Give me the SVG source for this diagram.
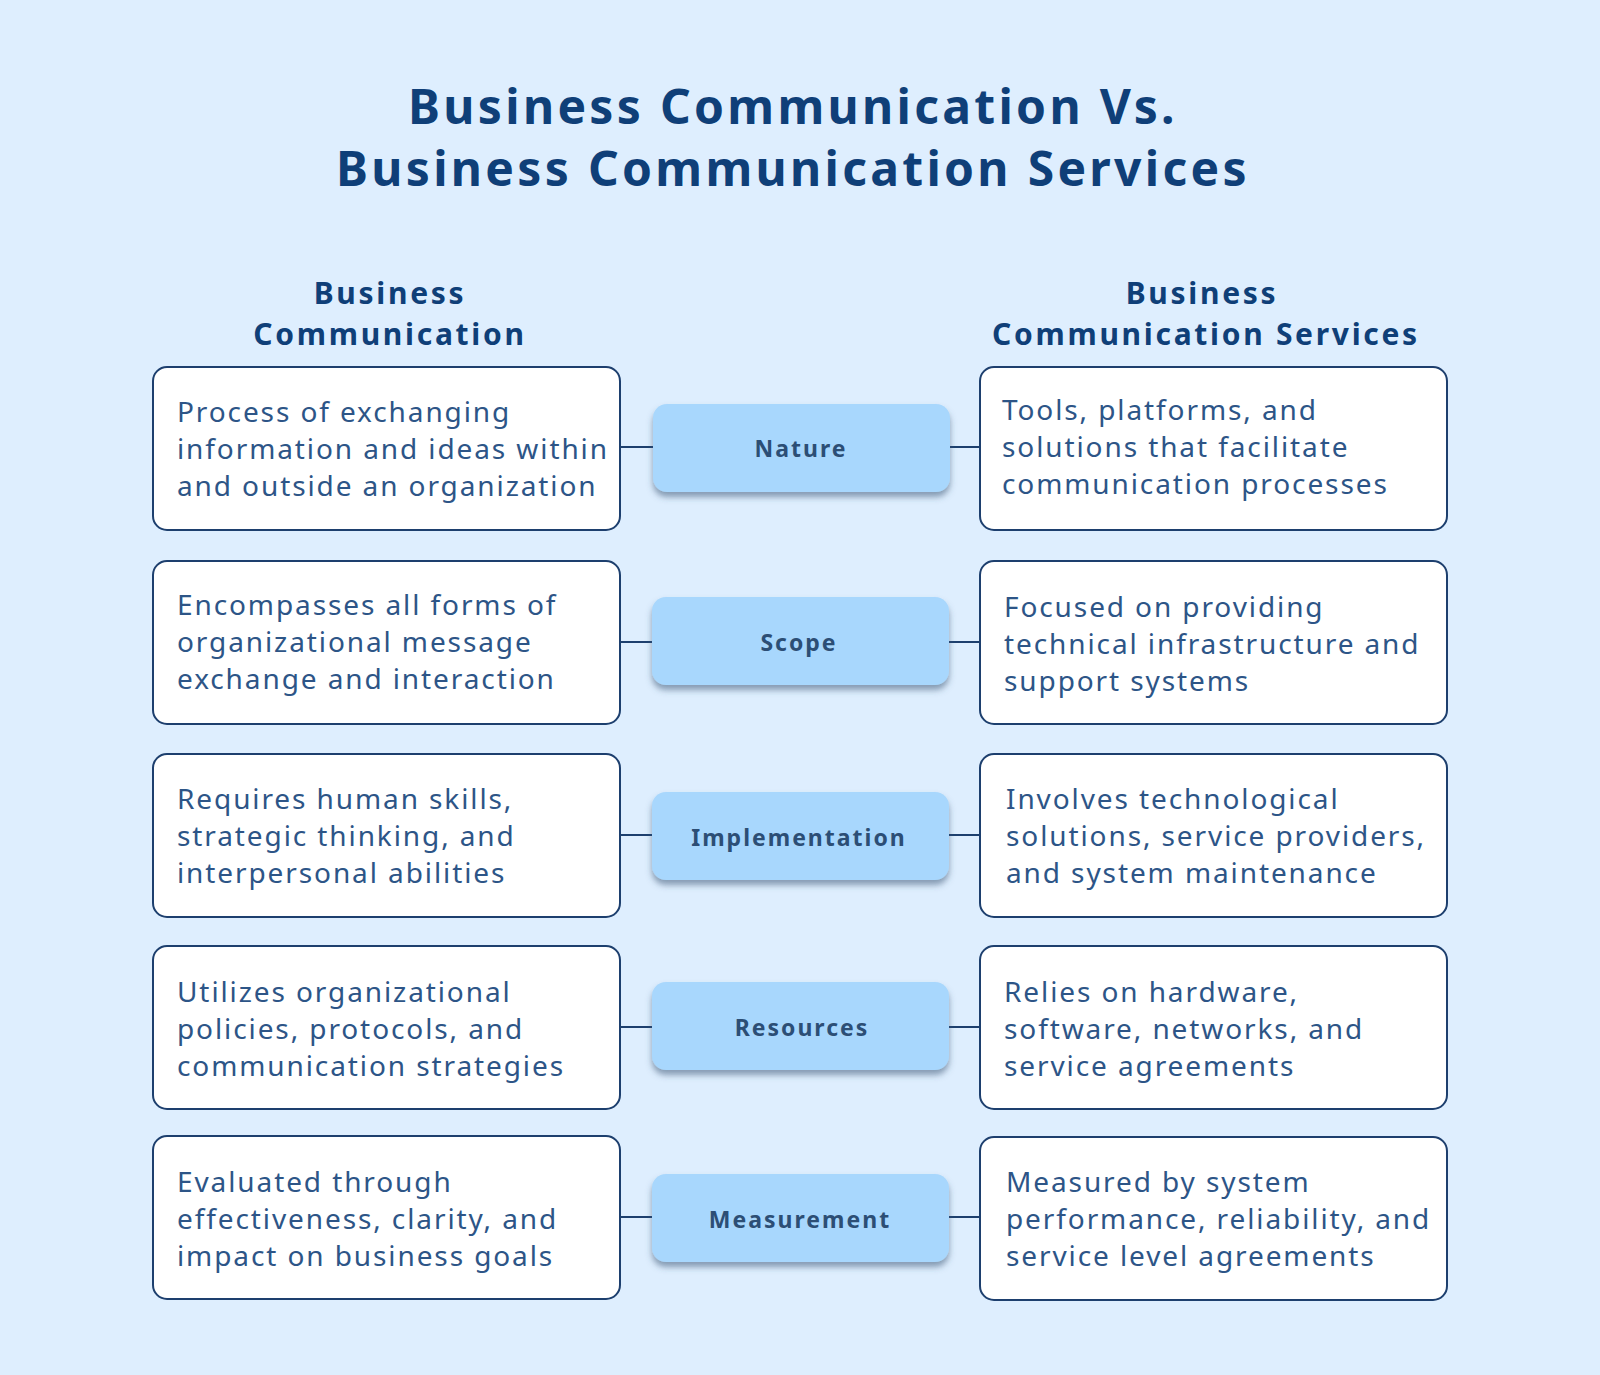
<svg xmlns="http://www.w3.org/2000/svg" width="1600" height="1375" viewBox="0 0 1600 1375">
<defs>
<style>
.t{font-family:"Noto Sans","Open Sans",sans-serif;font-weight:700;fill:#0f3f78}
.box{fill:#fff;stroke:#1d3f6e;stroke-width:2}
.pill{fill:#a8d7fd}
.pt{font-family:"Noto Sans","Open Sans",sans-serif;font-weight:700;font-size:23px;fill:#2c4e75;text-anchor:middle;letter-spacing:2px}
.bt{font-family:"Noto Sans","Open Sans",sans-serif;font-size:28px;fill:#2d5587;letter-spacing:1.9px}
.ln{stroke:#1d3f6e;stroke-width:2}
</style>
<filter id="sh" x="-10%" y="-20%" width="120%" height="150%"><feDropShadow dx="0" dy="5" stdDeviation="3" flood-color="#3a5575" flood-opacity="0.55"/></filter>
</defs>
<rect width="1600" height="1375" fill="#deeefe"/>
<g id="title" class="t" font-size="48" text-anchor="middle" letter-spacing="3.3">
<text x="793" y="124">Business Communication Vs.</text>
<text x="793" y="186">Business Communication Services</text>
</g>
<g id="headers" class="t" font-size="30" text-anchor="middle" letter-spacing="2.7">
<text x="390" y="304">Business</text><text x="390" y="345">Communication</text>
<text x="1202" y="304">Business</text><text x="1206" y="345">Communication Services</text>
</g>
<g id="connectors">
<line class="ln" x1="620" y1="447" x2="653" y2="447"/><line class="ln" x1="949" y1="447" x2="980" y2="447"/>
<line class="ln" x1="620" y1="642" x2="653" y2="642"/><line class="ln" x1="949" y1="642" x2="980" y2="642"/>
<line class="ln" x1="620" y1="835" x2="653" y2="835"/><line class="ln" x1="949" y1="835" x2="980" y2="835"/>
<line class="ln" x1="620" y1="1027" x2="653" y2="1027"/><line class="ln" x1="949" y1="1027" x2="980" y2="1027"/>
<line class="ln" x1="620" y1="1217" x2="653" y2="1217"/><line class="ln" x1="949" y1="1217" x2="980" y2="1217"/>
</g>
<g id="row1">
<rect class="box" x="153" y="367" width="467" height="163" rx="14"/>
<text class="bt" x="177"><tspan x="177" y="422">Process of exchanging</tspan><tspan x="177" y="459">information and ideas within</tspan><tspan x="177" y="496">and outside an organization</tspan></text>
<rect class="pill" filter="url(#sh)" x="653" y="404" width="297" height="88" rx="14"/><text class="pt" x="801" y="457">Nature</text>
<rect class="box" x="980" y="367" width="467" height="163" rx="14"/>
<text class="bt"><tspan x="1002" y="420">Tools, platforms, and</tspan><tspan x="1002" y="457">solutions that facilitate</tspan><tspan x="1002" y="494">communication processes</tspan></text>
</g>
<g id="row2">
<rect class="box" x="153" y="561" width="467" height="163" rx="14"/>
<text class="bt"><tspan x="177" y="615">Encompasses all forms of</tspan><tspan x="177" y="652">organizational message</tspan><tspan x="177" y="689">exchange and interaction</tspan></text>
<rect class="pill" filter="url(#sh)" x="652" y="597" width="297" height="88" rx="14"/><text class="pt" x="799" y="651">Scope</text>
<rect class="box" x="980" y="561" width="467" height="163" rx="14"/>
<text class="bt"><tspan x="1004" y="617">Focused on providing</tspan><tspan x="1004" y="654">technical infrastructure and</tspan><tspan x="1004" y="691">support systems</tspan></text>
</g>
<g id="row3">
<rect class="box" x="153" y="754" width="467" height="163" rx="14"/>
<text class="bt"><tspan x="177" y="809">Requires human skills,</tspan><tspan x="177" y="846">strategic thinking, and</tspan><tspan x="177" y="883">interpersonal abilities</tspan></text>
<rect class="pill" filter="url(#sh)" x="652" y="792" width="297" height="88" rx="14"/><text class="pt" x="799" y="846">Implementation</text>
<rect class="box" x="980" y="754" width="467" height="163" rx="14"/>
<text class="bt"><tspan x="1006" y="809">Involves technological</tspan><tspan x="1006" y="846">solutions, service providers,</tspan><tspan x="1006" y="883">and system maintenance</tspan></text>
</g>
<g id="row4">
<rect class="box" x="153" y="946" width="467" height="163" rx="14"/>
<text class="bt"><tspan x="177" y="1002">Utilizes organizational</tspan><tspan x="177" y="1039">policies, protocols, and</tspan><tspan x="177" y="1076">communication strategies</tspan></text>
<rect class="pill" filter="url(#sh)" x="652" y="982" width="297" height="88" rx="14"/><text class="pt" x="802" y="1036">Resources</text>
<rect class="box" x="980" y="946" width="467" height="163" rx="14"/>
<text class="bt"><tspan x="1004" y="1002">Relies on hardware,</tspan><tspan x="1004" y="1039">software, networks, and</tspan><tspan x="1004" y="1076">service agreements</tspan></text>
</g>
<g id="row5">
<rect class="box" x="153" y="1136" width="467" height="163" rx="14"/>
<text class="bt"><tspan x="177" y="1192">Evaluated through</tspan><tspan x="177" y="1229">effectiveness, clarity, and</tspan><tspan x="177" y="1266">impact on business goals</tspan></text>
<rect class="pill" filter="url(#sh)" x="652" y="1174" width="297" height="88" rx="14"/><text class="pt" x="800" y="1228">Measurement</text>
<rect class="box" x="980" y="1137" width="467" height="163" rx="14"/>
<text class="bt"><tspan x="1006" y="1192">Measured by system</tspan><tspan x="1006" y="1229">performance, reliability, and</tspan><tspan x="1006" y="1266">service level agreements</tspan></text>
</g>
</svg>
